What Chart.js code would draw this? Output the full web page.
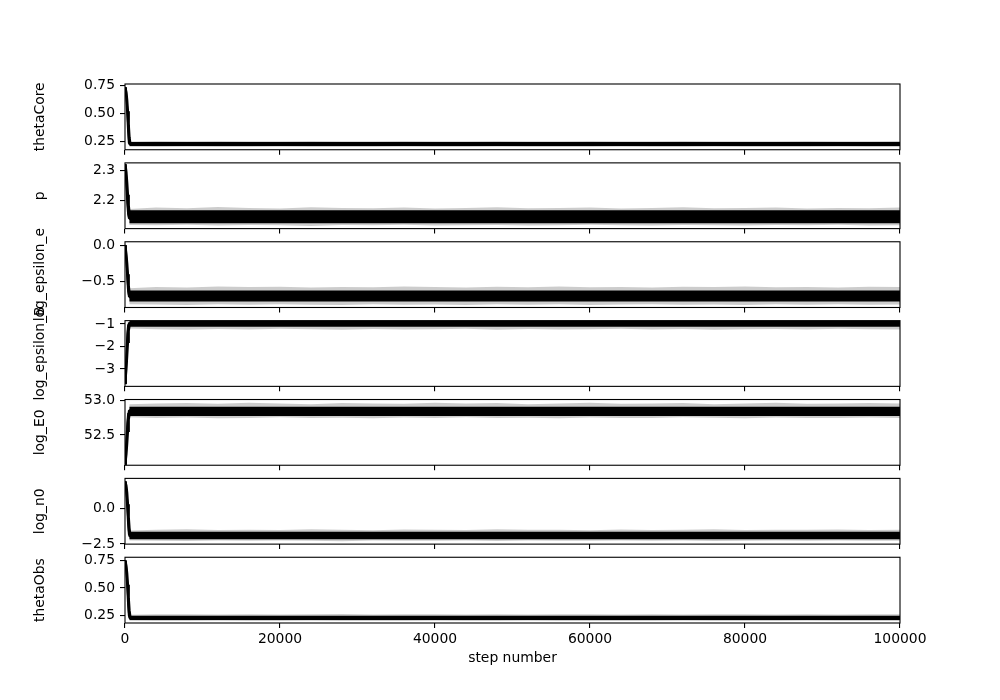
<!DOCTYPE html>
<html>
<head>
<meta charset="utf-8">
<script src="https://cdn.jsdelivr.net/npm/chart.js@4.4.1/dist/chart.umd.min.js"></script>
<style>
  html, body { margin: 0; padding: 0; background: #fff; }
  #wrap { position: relative; width: 1000px; height: 700px; background: #fff; }
  #wrap canvas { position: absolute; left: 0; top: 0; }
</style>
</head>
<body>
<div id="wrap"></div>
<script>
// ---------------- DATA ----------------
const paramNames = ['thetaCore', 'p', 'log_epsilon_e', 'log_epsilon_B', 'log_E0', 'log_n0', 'thetaObs'];
const xTicks = [0, 20000, 40000, 60000, 80000, 100000];
const xTickLabels = ['0', '20000', '40000', '60000', '80000', '100000'];
const xLabel = 'step number';

const burnSteps = [0, 100, 200, 300, 400, 500, 600, 700, 800];
const bandSteps = [550, 4000, 8000, 12000, 16000, 20000, 24000, 28000, 32000, 36000, 40000, 44000, 48000,
  52000, 56000, 60000, 64000, 68000, 72000, 76000, 80000, 84000, 88000, 92000, 96000, 100000];
const innerSteps = [550, 100000];

// y limits
const yLimits = [[0.1788, 0.7615], [2.107, 2.326], [-0.855, 0.048], [-3.773, -0.85], [52.06, 53.0175], [-2.51, 2.12], [0.184, 0.777]];

// y ticks
const thetaCoreTicks = [0.25, 0.5, 0.75];
const thetaCoreTickLabels = ['0.25', '0.50', '0.75'];
const pTicks = [2.2, 2.3];
const pTickLabels = ['2.2', '2.3'];
const epsETicks = [-0.5, 0.0];
const epsETickLabels = ['\u22120.5', '0.0'];
const epsBTicks = [-3, -2, -1];
const epsBTickLabels = ['\u22123', '\u22122', '\u22121'];
const e0Ticks = [52.5, 53.0];
const e0TickLabels = ['52.5', '53.0'];
const n0Ticks = [-2.5, 0.0];
const n0TickLabels = ['\u22122.5', '0.0'];
const thetaObsTicks = [0.25, 0.5, 0.75];
const thetaObsTickLabels = ['0.25', '0.50', '0.75'];

// thetaCore
const thetaCoreBurnA = [0.735, 0.71, 0.64, 0.53, 0.40, 0.27, 0.23, 0.23, 0.23];
const thetaCoreBurnB = [0.725, 0.69, 0.60, 0.48, 0.34, 0.24, 0.23, 0.228, 0.23];
const thetaCoreBurnC = [0.73, 0.72, 0.69, 0.62, 0.52, 0.40, 0.29, 0.24, 0.225];
const thetaCoreOuterHi = [0.252,0.256,0.254,0.257,0.255,0.253,0.256,0.255,0.254,0.257,0.255,0.254,0.256,0.253,0.255,0.256,0.254,0.255,0.257,0.254,0.255,0.253,0.256,0.255,0.254,0.256];
const thetaCoreInnerHi = [0.248, 0.248];
const thetaCoreInnerLo = [0.211, 0.211];
const thetaCoreOuterLo = [0.205,0.204,0.205,0.203,0.204,0.205,0.203,0.204,0.204,0.205,0.203,0.204,0.205,0.204,0.203,0.204,0.205,0.204,0.203,0.205,0.204,0.204,0.203,0.205,0.204,0.203];

// p
const pBurnA = [2.322, 2.30, 2.26, 2.21, 2.17, 2.148, 2.145, 2.146, 2.145];
const pBurnB = [2.315, 2.285, 2.24, 2.19, 2.155, 2.142, 2.14, 2.138, 2.14];
const pBurnC = [2.32, 2.315, 2.295, 2.26, 2.22, 2.185, 2.16, 2.15, 2.148];
const pOuterHi = [2.172,2.177,2.175,2.179,2.176,2.174,2.178,2.176,2.175,2.177,2.174,2.176,2.178,2.175,2.176,2.177,2.174,2.176,2.178,2.175,2.176,2.177,2.174,2.176,2.175,2.177];
const pInnerHi = [2.168, 2.168];
const pInnerLo = [2.125, 2.125];
const pOuterLo = [2.119,2.118,2.120,2.117,2.119,2.118,2.116,2.119,2.118,2.120,2.117,2.118,2.119,2.117,2.118,2.120,2.118,2.117,2.119,2.118,2.117,2.119,2.118,2.120,2.117,2.118];

// log_epsilon_e
const epsEBurnA = [0.004, -0.08, -0.22, -0.40, -0.58, -0.68, -0.70, -0.70, -0.70];
const epsEBurnB = [-0.01, -0.12, -0.28, -0.47, -0.63, -0.70, -0.71, -0.72, -0.71];
const epsEBurnC = [0.0, -0.04, -0.12, -0.25, -0.40, -0.55, -0.65, -0.69, -0.69];
const epsEOuterHi = [-0.59,-0.575,-0.58,-0.565,-0.575,-0.57,-0.58,-0.572,-0.578,-0.566,-0.575,-0.58,-0.57,-0.576,-0.568,-0.578,-0.572,-0.58,-0.57,-0.575,-0.566,-0.578,-0.572,-0.58,-0.57,-0.575];
const epsEInnerHi = [-0.622, -0.622];
const epsEInnerLo = [-0.772, -0.772];
const epsEOuterLo = [-0.81,-0.815,-0.82,-0.812,-0.818,-0.81,-0.816,-0.822,-0.812,-0.818,-0.814,-0.82,-0.81,-0.816,-0.812,-0.82,-0.815,-0.81,-0.818,-0.814,-0.82,-0.812,-0.816,-0.81,-0.818,-0.815];

// log_epsilon_B
const epsBBurnA = [-3.64, -3.2, -2.5, -1.7, -1.15, -1.0, -0.98, -0.98, -0.98];
const epsBBurnB = [-3.6, -3.0, -2.2, -1.45, -1.05, -0.97, -0.96, -0.97, -0.96];
const epsBBurnC = [-3.62, -3.4, -3.0, -2.4, -1.8, -1.3, -1.08, -1.0, -0.99];
const epsBOuterHi = [-0.86,-0.85,-0.86,-0.85,-0.86,-0.85,-0.86,-0.85,-0.86,-0.85,-0.86,-0.85,-0.86,-0.85,-0.86,-0.85,-0.86,-0.85,-0.86,-0.85,-0.86,-0.85,-0.86,-0.85,-0.86,-0.85];
const epsBInnerHi = [-0.87, -0.87];
const epsBInnerLo = [-1.12, -1.12];
const epsBOuterLo = [-1.2,-1.23,-1.25,-1.22,-1.24,-1.21,-1.23,-1.26,-1.22,-1.24,-1.23,-1.21,-1.25,-1.22,-1.24,-1.23,-1.21,-1.24,-1.22,-1.25,-1.23,-1.22,-1.24,-1.21,-1.23,-1.24];

// log_E0
const e0BurnA = [52.07, 52.2, 52.4, 52.6, 52.77, 52.84, 52.85, 52.85, 52.85];
const e0BurnB = [52.09, 52.25, 52.47, 52.67, 52.81, 52.85, 52.86, 52.86, 52.86];
const e0BurnC = [52.08, 52.12, 52.22, 52.38, 52.56, 52.72, 52.80, 52.83, 52.84];
const e0OuterHi = [52.95,52.96,52.965,52.955,52.97,52.96,52.95,52.965,52.96,52.955,52.97,52.96,52.965,52.95,52.96,52.97,52.955,52.96,52.965,52.95,52.96,52.97,52.955,52.96,52.965,52.96];
const e0InnerHi = [52.912, 52.912];
const e0InnerLo = [52.778, 52.778];
const e0OuterLo = [52.76,52.75,52.755,52.745,52.75,52.76,52.748,52.752,52.745,52.755,52.75,52.76,52.748,52.752,52.745,52.755,52.75,52.748,52.76,52.752,52.745,52.755,52.75,52.748,52.755,52.75];

// log_n0
const n0BurnA = [1.91, 1.7, 1.2, 0.4, -0.7, -1.6, -1.9, -1.9, -1.9];
const n0BurnB = [1.85, 1.5, 0.8, -0.1, -1.1, -1.8, -1.95, -1.95, -1.95];
const n0BurnC = [1.9, 1.82, 1.6, 1.1, 0.3, -0.6, -1.4, -1.8, -1.88];
const n0OuterHi = [-1.55,-1.5,-1.47,-1.52,-1.49,-1.51,-1.46,-1.5,-1.53,-1.48,-1.5,-1.52,-1.47,-1.5,-1.49,-1.53,-1.48,-1.51,-1.5,-1.47,-1.52,-1.49,-1.5,-1.48,-1.51,-1.5];
const n0InnerHi = [-1.64, -1.64];
const n0InnerLo = [-2.16, -2.16];
const n0OuterLo = [-2.25,-2.27,-2.29,-2.26,-2.28,-2.25,-2.27,-2.3,-2.26,-2.28,-2.27,-2.25,-2.29,-2.26,-2.28,-2.27,-2.25,-2.28,-2.26,-2.29,-2.27,-2.26,-2.28,-2.25,-2.27,-2.28];

// thetaObs
const thetaObsBurnA = [0.75, 0.72, 0.65, 0.54, 0.41, 0.28, 0.235, 0.232, 0.233];
const thetaObsBurnB = [0.74, 0.70, 0.61, 0.49, 0.35, 0.25, 0.23, 0.23, 0.23];
const thetaObsBurnC = [0.745, 0.735, 0.70, 0.63, 0.53, 0.41, 0.30, 0.245, 0.232];
const thetaObsOuterHi = [0.258,0.262,0.264,0.261,0.263,0.26,0.262,0.265,0.261,0.263,0.262,0.26,0.264,0.261,0.263,0.262,0.26,0.263,0.261,0.264,0.262,0.261,0.263,0.26,0.262,0.263];
const thetaObsInnerHi = [0.25, 0.25];
const thetaObsInnerLo = [0.211, 0.211];
const thetaObsOuterLo = [0.205,0.203,0.202,0.204,0.203,0.202,0.204,0.203,0.201,0.203,0.204,0.202,0.203,0.204,0.202,0.203,0.201,0.203,0.204,0.202,0.203,0.202,0.204,0.203,0.202,0.203];

// ---------------- BUILD ----------------
const panels = [
  {ticks: thetaCoreTicks, labels: thetaCoreTickLabels, burn: [thetaCoreBurnA, thetaCoreBurnB, thetaCoreBurnC], oh: thetaCoreOuterHi, ih: thetaCoreInnerHi, il: thetaCoreInnerLo, ol: thetaCoreOuterLo},
  {ticks: pTicks, labels: pTickLabels, burn: [pBurnA, pBurnB, pBurnC], oh: pOuterHi, ih: pInnerHi, il: pInnerLo, ol: pOuterLo},
  {ticks: epsETicks, labels: epsETickLabels, burn: [epsEBurnA, epsEBurnB, epsEBurnC], oh: epsEOuterHi, ih: epsEInnerHi, il: epsEInnerLo, ol: epsEOuterLo},
  {ticks: epsBTicks, labels: epsBTickLabels, burn: [epsBBurnA, epsBBurnB, epsBBurnC], oh: epsBOuterHi, ih: epsBInnerHi, il: epsBInnerLo, ol: epsBOuterLo},
  {ticks: e0Ticks, labels: e0TickLabels, burn: [e0BurnA, e0BurnB, e0BurnC], oh: e0OuterHi, ih: e0InnerHi, il: e0InnerLo, ol: e0OuterLo},
  {ticks: n0Ticks, labels: n0TickLabels, burn: [n0BurnA, n0BurnB, n0BurnC], oh: n0OuterHi, ih: n0InnerHi, il: n0InnerLo, ol: n0OuterLo},
  {ticks: thetaObsTicks, labels: thetaObsTickLabels, burn: [thetaObsBurnA, thetaObsBurnB, thetaObsBurnC], oh: thetaObsOuterHi, ih: thetaObsInnerHi, il: thetaObsInnerLo, ol: thetaObsOuterLo}
];

const FONT = 'DejaVu Sans';
const FS = 13.9;
const figTop = 84, figBottom = 623;
const axH = (figBottom - figTop) / 8.2;
const gapH = axH * 0.2;
const X_AXIS_H = 40;

function pts(xs, ys) { return xs.map((x, i) => ({x: x, y: ys[i]})); }

const framePlugin = {
  id: 'frame',
  afterDraw(chart, args, opts) {
    const ctx = chart.ctx;
    const a = chart.chartArea;
    ctx.save();
    ctx.strokeStyle = '#000';
    ctx.lineWidth = 1.1;
    ctx.strokeRect(a.left, a.top, a.right - a.left, a.bottom - a.top);
    ctx.fillStyle = '#000';
    ctx.font = FS + 'px "' + FONT + '"';
    ctx.translate(44, (a.top + a.bottom) / 2);
    ctx.rotate(-Math.PI / 2);
    ctx.textAlign = 'center';
    ctx.textBaseline = 'alphabetic';
    ctx.fillText(opts.ylabel, 0, 0);
    ctx.restore();
    if (opts.last) {
      ctx.save();
      ctx.fillStyle = '#000';
      ctx.font = FS + 'px "' + FONT + '"';
      ctx.textAlign = 'center';
      ctx.textBaseline = 'middle';
      ctx.fillText(xLabel, (a.left + a.right) / 2, 658.5);
      ctx.restore();
    }
  }
};

const wrap = document.getElementById('wrap');
panels.forEach((pn, i) => {
  const top = figTop + i * (axH + gapH);
  const bottom = top + axH;
  const last = i === panels.length - 1;
  const cv = document.createElement('canvas');
  cv.width = 1000; cv.height = 700;
  cv.style.width = '1000px'; cv.style.height = '700px';
  wrap.appendChild(cv);

  const datasets = [
    {data: pts(bandSteps, pn.oh), borderWidth: 0, borderColor: 'rgba(0,0,0,0)', backgroundColor: 'rgba(0,0,0,0.2)', fill: '+1'},
    {data: pts(bandSteps, pn.ol), borderWidth: 0, borderColor: 'rgba(0,0,0,0)', fill: false},
    {data: pts(innerSteps, pn.ih), borderWidth: 0, borderColor: 'rgba(0,0,0,0)', backgroundColor: '#000', fill: '+1'},
    {data: pts(innerSteps, pn.il), borderWidth: 0, borderColor: 'rgba(0,0,0,0)', fill: false}
  ];
  pn.burn.forEach(b => datasets.push({data: pts(burnSteps, b), borderColor: '#000', borderWidth: 2, fill: false}));

  new Chart(cv, {
    type: 'line',
    data: {datasets: datasets},
    options: {
      responsive: false,
      animation: false,
      devicePixelRatio: 1,
      layout: {padding: {left: 0, right: 100, top: top, bottom: 700 - bottom - X_AXIS_H}},
      elements: {point: {radius: 0}, line: {tension: 0}},
      plugins: {legend: {display: false}, tooltip: {enabled: false}, frame: {ylabel: paramNames[i], last: last}},
      scales: {
        x: {
          type: 'linear', min: 0, max: 100000,
          afterBuildTicks(s) { s.ticks = xTicks.map(v => ({value: v})); },
          afterFit(s) { s.height = X_AXIS_H; },
          ticks: {
            autoSkip: false, maxRotation: 0, minRotation: 0, padding: 3, color: '#000',
            font: {family: FONT, size: FS},
            callback: (v) => last ? xTickLabels[xTicks.indexOf(v)] : ''
          },
          grid: {display: true, drawOnChartArea: false, drawTicks: true, tickLength: 5, color: '#000', lineWidth: 1.1},
          border: {display: false}
        },
        y: {
          type: 'linear', min: yLimits[i][0], max: yLimits[i][1],
          afterBuildTicks(s) { s.ticks = pn.ticks.map(v => ({value: v})); },
          afterFit(s) { s.width = 125; },
          ticks: {
            autoSkip: false, padding: 5, color: '#000',
            font: {family: FONT, size: FS},
            callback: (v) => pn.labels[pn.ticks.indexOf(v)]
          },
          grid: {display: true, drawOnChartArea: false, drawTicks: true, tickLength: 5, color: '#000', lineWidth: 1.1},
          border: {display: false}
        }
      }
    },
    plugins: [framePlugin]
  });
});
</script>
</body>
</html>
